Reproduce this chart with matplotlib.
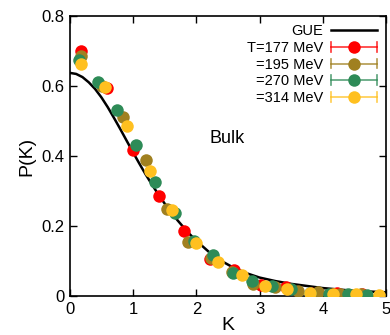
import matplotlib
matplotlib.use("Agg")
import matplotlib.pyplot as plt
from matplotlib.legend_handler import HandlerBase
from matplotlib.lines import Line2D

plt.rcParams['font.family'] = ['Liberation Sans', 'DejaVu Sans']

# GUE curve
gue_k = [0.0, 0.1, 0.2, 0.3, 0.4, 0.5, 0.6, 0.7, 0.8, 0.9, 1.0, 1.1, 1.2, 1.3, 1.4, 1.5,
         1.6, 1.7, 1.8, 1.9, 2.0, 2.2, 2.4, 2.6, 2.8, 3.0, 3.25, 3.5, 4.0, 4.5, 5.0]
gue_p = [0.637, 0.634, 0.625, 0.610, 0.591, 0.567, 0.539, 0.508, 0.476, 0.443, 0.410, 0.378,
         0.347, 0.318, 0.290, 0.264, 0.240, 0.217, 0.196, 0.176, 0.158, 0.126, 0.100, 0.080,
         0.065, 0.053, 0.043, 0.035, 0.023, 0.015, 0.011]

red_k = [0.18, 0.59, 1.00, 1.41, 1.80, 2.21, 2.60, 3.02, 3.42, 3.82, 4.22, 4.62]
red_p = [0.700, 0.594, 0.416, 0.285, 0.186, 0.107, 0.076, 0.031, 0.027, 0.009, 0.009, 0.006]

olive_k = [0.17, 0.51, 0.84, 1.20, 1.54, 1.87, 2.23, 2.56, 2.90, 3.25, 3.60, 3.93, 4.27, 4.60]
olive_p = [0.684, 0.600, 0.511, 0.388, 0.248, 0.155, 0.110, 0.070, 0.036, 0.025, 0.015, 0.012, 0.006, 0.005]

green_k = [0.14, 0.45, 0.75, 1.05, 1.35, 1.66, 1.96, 2.27, 2.58, 2.88, 3.19, 3.50, 3.80, 4.10, 4.40, 4.70]
green_p = [0.675, 0.611, 0.530, 0.431, 0.326, 0.236, 0.158, 0.117, 0.067, 0.043, 0.028, 0.019, 0.009, 0.006, 0.006, 0.003]

yellow_k = [0.17, 0.55, 0.90, 1.27, 1.62, 1.99, 2.35, 2.72, 3.08, 3.44, 3.80, 4.16, 4.53, 4.89]
yellow_p = [0.662, 0.597, 0.485, 0.356, 0.247, 0.152, 0.096, 0.060, 0.030, 0.019, 0.010, 0.005, 0.005, 0.003]

labels = ['T=177 MeV', '=195 MeV', '=270 MeV', '=314 MeV']
colors = ['#ff0000', '#a08020', '#2e8b57', '#ffc020']
xticks = [0, 1, 2, 3, 4, 5]
yticks = [0, 0.2, 0.4, 0.6, 0.8]

fig = plt.figure(figsize=(3.9, 3.35), dpi=100)
ax = fig.add_axes([0.179, 0.116, 0.811, 0.837])

ax.plot(gue_k, gue_p, color='black', lw=1.8, zorder=2, label='GUE')

series = [(red_k, red_p), (olive_k, olive_p), (green_k, green_p), (yellow_k, yellow_p)]
handles = []
for (k, p), c, lab in zip(series, colors, labels):
    ax.plot(k, p, 'o', color=c, ms=9, mec='none', zorder=3)
    handles.append(Line2D([], [], marker='o', color=c, ms=9, mec='none', lw=1.2, label=lab))


class ErrHandler(HandlerBase):
    def create_artists(self, legend, orig, xd, yd, w, h, fs, trans):
        c = orig.get_color()
        y = yd + h / 2
        line = Line2D([xd, xd + w], [y, y], color=c, lw=1.2, alpha=0.8, transform=trans)
        cap1 = Line2D([xd, xd], [y - 3.5, y + 3.5], color=c, lw=1.2, alpha=0.8, transform=trans)
        cap2 = Line2D([xd + w, xd + w], [y - 3.5, y + 3.5], color=c, lw=1.2, alpha=0.8, transform=trans)
        m = Line2D([xd + w / 2], [y], marker='o', color=c, ms=9, mec='none', ls='none', transform=trans)
        return [line, cap1, cap2, m]


gue_handle = Line2D([], [], color='black', lw=1.8, label='GUE')
hmap = {h: ErrHandler() for h in handles}
leg = ax.legend([gue_handle] + handles, ['GUE'] + labels, loc='upper right',
                markerfirst=False, frameon=False, fontsize=10.5, handlelength=3.2,
                handletextpad=0.5, labelspacing=0.18, borderaxespad=0.1,
                handler_map=hmap, bbox_to_anchor=(0.995, 0.995))
for t in leg.get_texts():
    t.set_ha('right')
leg._legend_box.align = 'right'

ax.text(2.49, 0.45, 'Bulk', fontsize=13, ha='center', va='center')

ax.set_xlim(0, 5)
ax.set_ylim(0, 0.8)
ax.set_xticks(xticks)
ax.set_xticklabels([str(v) for v in xticks])
ax.set_yticks(yticks)
ax.set_yticklabels(['0', '0.2', '0.4', '0.6', '0.8'])
ax.tick_params(direction='in', top=True, right=True, labelsize=12, length=5, width=1, pad=4)
ax.set_xlabel('K', fontsize=14, labelpad=0)
ax.set_ylabel('P(K)', fontsize=14, labelpad=4)
for s in ax.spines.values():
    s.set_linewidth(1.2)

fig.savefig('out.png', dpi=100)
